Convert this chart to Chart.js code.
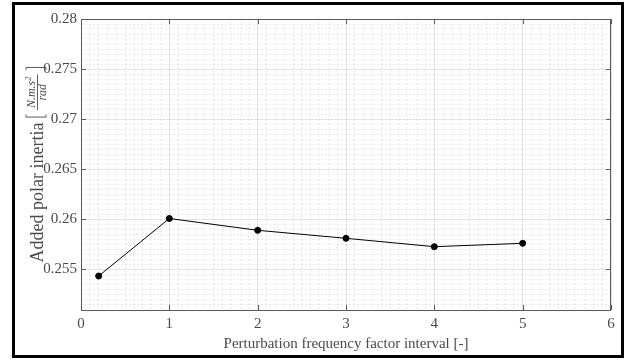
<!DOCTYPE html>
<html>
<head>
<meta charset="utf-8">
<script src="https://cdn.jsdelivr.net/npm/chart.js@4"></script>
<style>
  html, body { margin: 0; padding: 0; background: #fff; }
  #wrap { width: 625px; height: 361px; }
</style>
</head>
<body>
<div id="wrap"><canvas id="chart1" width="625" height="361"></canvas></div>
<script>
// data
const freqFactor = [0.2, 1, 2, 3, 4, 5];
const addedInertia = [0.2543, 0.26005, 0.25887, 0.25807, 0.25723, 0.25757];

const xTickValues = [0, 1, 2, 3, 4, 5, 6];
const yTickValues = [0.255, 0.26, 0.265, 0.27, 0.275, 0.28];

const serif = "'Liberation Serif', 'DejaVu Serif', serif";
const majorGrid = "rgba(38,38,38,0.13)";
const minorGrid = "rgba(38,38,38,0.09)";

function isMajorX(v) { return xTickValues.some(t => Math.abs(t - v) < 1e-6); }
function isMajorY(v) { return yTickValues.some(t => Math.abs(t - v) < 1e-7); }

// frame, inward ticks and the y label with its fraction
const extras = {
  id: "extras",
  afterDraw(chart) {
    const ctx = chart.ctx;
    const a = chart.chartArea;
    const xs = chart.scales.x, ys = chart.scales.y;

    ctx.save();
    ctx.strokeStyle = "#5a5a5a";
    ctx.lineWidth = 1;
    ctx.beginPath();
    xTickValues.forEach(v => {
      const px = Math.round(xs.getPixelForValue(v)) + 0.5;
      ctx.moveTo(px, a.bottom); ctx.lineTo(px, a.bottom - 5);
      ctx.moveTo(px, a.top); ctx.lineTo(px, a.top + 5);
    });
    yTickValues.forEach(v => {
      const py = Math.round(ys.getPixelForValue(v)) + 0.5;
      ctx.moveTo(a.left, py); ctx.lineTo(a.left + 5, py);
      ctx.moveTo(a.right, py); ctx.lineTo(a.right - 5, py);
    });
    ctx.stroke();
    ctx.strokeRect(a.left + 0.5, a.top + 0.5, a.right - a.left - 1, a.bottom - a.top);

    // outer black frame
    ctx.strokeStyle = "#000";
    ctx.lineWidth = 3;
    ctx.strokeRect(13.5, 3.5, 609, 353);

    // y label, rotated; y coordinate after rotation equals screen x
    const cy = (a.top + a.bottom) / 2;
    ctx.translate(0, cy);
    ctx.rotate(-Math.PI / 2);
    ctx.fillStyle = "#4a4a4a";
    ctx.strokeStyle = "#4a4a4a";
    ctx.textBaseline = "alphabetic";
    const mainFont = "18px " + serif;
    const fracFont = "italic 12px " + serif;
    const supFont = "italic 8.5px " + serif;
    const main = "Added polar inertia ";
    ctx.font = mainFont;
    const wMain = ctx.measureText(main).width;
    ctx.font = fracFont;
    const wNum = ctx.measureText("N.m.s").width;
    ctx.font = supFont;
    const wSup = ctx.measureText("2").width;
    ctx.font = fracFont;
    const wDen = ctx.measureText("rad").width;
    const fracW = Math.max(wNum + wSup, wDen) + 6;
    const brW = 7;
    const total = wMain + brW + fracW + brW;
    let x = -total / 2;
    ctx.font = mainFont;
    ctx.textAlign = "left";
    ctx.fillText(main, x, 43);
    x += wMain;
    // left bracket
    ctx.lineWidth = 0.9;
    ctx.beginPath();
    ctx.moveTo(x + 3.5, 26); ctx.lineTo(x + 1, 26); ctx.lineTo(x + 1, 46); ctx.lineTo(x + 3.5, 46);
    ctx.stroke();
    x += brW;
    // fraction
    const fx = x + (fracW - (wNum + wSup)) / 2;
    ctx.font = fracFont;
    ctx.fillText("N.m.s", fx, 35);
    ctx.font = supFont;
    ctx.fillText("2", fx + wNum, 30.5);
    ctx.font = fracFont;
    ctx.fillText("rad", x + (fracW - wDen) / 2, 46);
    ctx.beginPath();
    ctx.moveTo(x + 1, 37.5); ctx.lineTo(x + fracW - 1, 37.5);
    ctx.stroke();
    x += fracW;
    // right bracket
    ctx.beginPath();
    ctx.moveTo(x + 3.5, 26); ctx.lineTo(x + 6, 26); ctx.lineTo(x + 6, 46); ctx.lineTo(x + 3.5, 46);
    ctx.stroke();
    ctx.restore();
  }
};

new Chart(document.getElementById("chart1"), {
  type: "scatter",
  data: {
    datasets: [{
      data: freqFactor.map((f, i) => ({ x: f, y: addedInertia[i] })),
      showLine: true,
      borderColor: "#000",
      backgroundColor: "#000",
      borderWidth: 1,
      pointRadius: 3,
      pointHoverRadius: 3,
      tension: 0
    }]
  },
  options: {
    responsive: false,
    animation: false,
    events: [],
    layout: { padding: { left: 0, top: 19, right: 14, bottom: 0 } },
    plugins: {
      legend: { display: false },
      tooltip: { enabled: false }
    },
    scales: {
      x: {
        type: "linear",
        min: 0,
        max: 6,
        afterFit(scale) { scale.height = 51; },
        ticks: {
          stepSize: 0.1,
          autoSkip: false,
          maxRotation: 0,
          padding: 5,
          color: "#4a4a4a",
          font: { family: serif, size: 15 },
          callback: v => isMajorX(v) ? String(Math.round(v)) : ""
        },
        grid: {
          drawTicks: false,
          color: c => (c.tick && isMajorX(c.tick.value)) ? majorGrid : minorGrid
        },
        border: {
          display: false,
          dash: c => (c.tick && !isMajorX(c.tick.value)) ? [2, 2] : []
        },
        title: {
          display: true,
          text: "Perturbation frequency factor interval [-]",
          color: "#4a4a4a",
          font: { family: serif, size: 15 },
          padding: { top: 0, bottom: 8 }
        }
      },
      y: {
        type: "linear",
        min: 0.2509,
        max: 0.28,
        afterFit(scale) { scale.width = 81; },
        ticks: {
          stepSize: 0.0005,
          autoSkip: false,
          padding: 4,
          color: "#4a4a4a",
          font: { family: serif, size: 15 },
          callback: v => isMajorY(v) ? String(Math.round(v * 1000) / 1000) : ""
        },
        grid: {
          drawTicks: false,
          color: c => (c.tick && isMajorY(c.tick.value)) ? majorGrid : minorGrid
        },
        border: {
          display: false,
          dash: c => (c.tick && !isMajorY(c.tick.value)) ? [2, 2] : []
        }
      }
    }
  },
  plugins: [extras]
});
</script>
</body>
</html>
